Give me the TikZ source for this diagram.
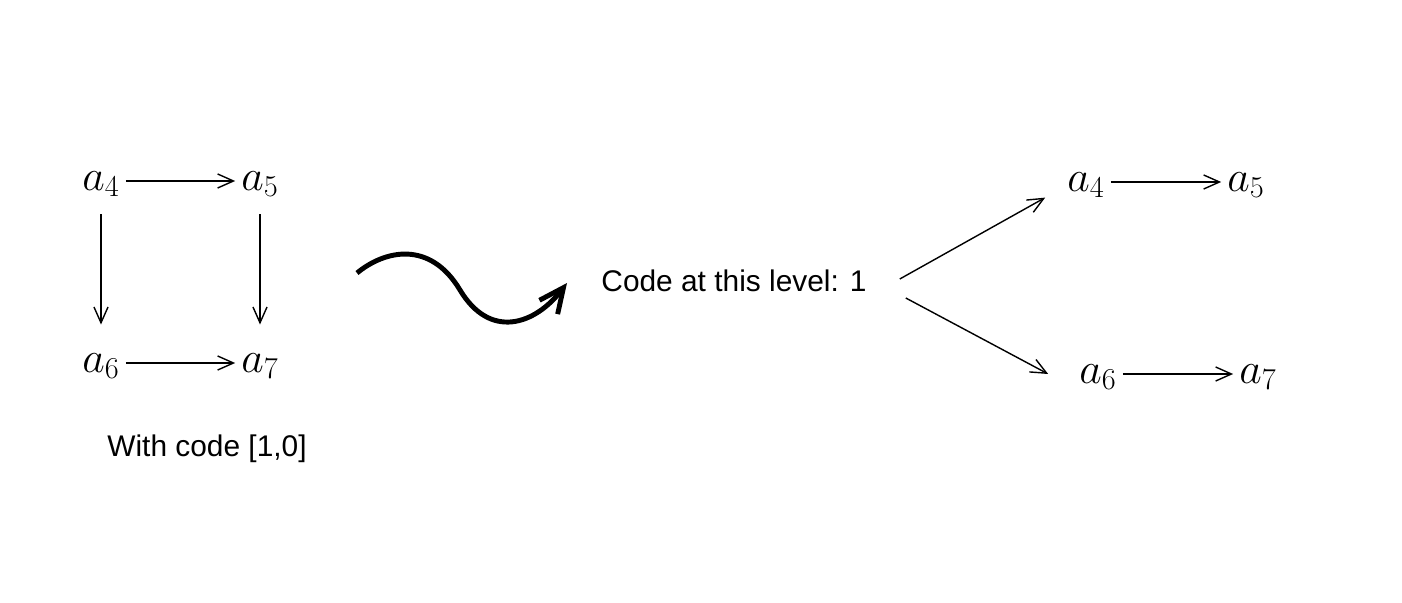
\documentclass[tikz,border=0pt]{standalone}
\usepackage{amsmath}
\usepackage{fontspec}
\newfontfamily\arial{Liberation Sans}
\usepackage{tikz}
\usetikzlibrary{arrows.meta}
\tikzset{m/.style={font=\fontsize{27}{31}\selectfont, text depth=0pt}}
\tikzset{l/.style={font=\arial\fontsize{17}{20}\selectfont}}
\tikzset{ar/.style={thick, -{Straight Barb[length=9pt,width=8pt]}}}
\tikzset{wave/.style={line width=2.8pt, -{Straight Barb[length=14pt,width=13pt]}}}

\begin{document}
\begin{tikzpicture}
    \useasboundingbox (0,0) rectangle (28.04,12.04);
    % the square
    \node[m] (a4) at (2.02,8.42) {$a_4$};
    \node[m] (a5) at (5.20,8.42) {$a_5$};
    \node[m] (a6) at (2.02,4.78) {$a_6$};
    \node[m] (a7) at (5.20,4.78) {$a_7$};
    \draw[ar] (a4) -- (a5);
    \draw[ar] (a6) -- (a7);
    \draw[ar, shorten <=10pt, shorten >=13pt] (a4) -- (a6);
    \draw[ar, shorten <=10pt, shorten >=13pt] (a5) -- (a7);
    \node[l] (wc) at (4.14,3.06) {With code [1,0]};
    % the wave
    \coordinate (w0) at (7.14,6.58);
    \coordinate (w1) at (11.34,6.38);
    \draw[wave] (w0) .. controls (7.7,7.04) and (8.6,7.24) .. (9.2,6.24)
      .. controls (9.8,5.24) and (10.7,5.54) .. (w1);
    % the split
    \node[l] (code) at (14.68,6.42) {Code at this level: 1};
    \node[m] (b4) at (21.72,8.40) {$a_4$};
    \node[m] (b5) at (24.92,8.40) {$a_5$};
    \node[m] (b6) at (21.96,4.56) {$a_6$};
    \node[m] (b7) at (25.16,4.56) {$a_7$};
    \draw[ar] (b4) -- (b5);
    \draw[ar] (b6) -- (b7);
    \draw[ar] ([shift={(0.54,0.04)}]code.east) -- ([xshift=-0.32cm]b4.south west);
    \draw[ar] ([shift={(0.66,-0.34)}]code.east) -- ([xshift=-0.5cm]b6.west);
\end{tikzpicture}
\end{document}
